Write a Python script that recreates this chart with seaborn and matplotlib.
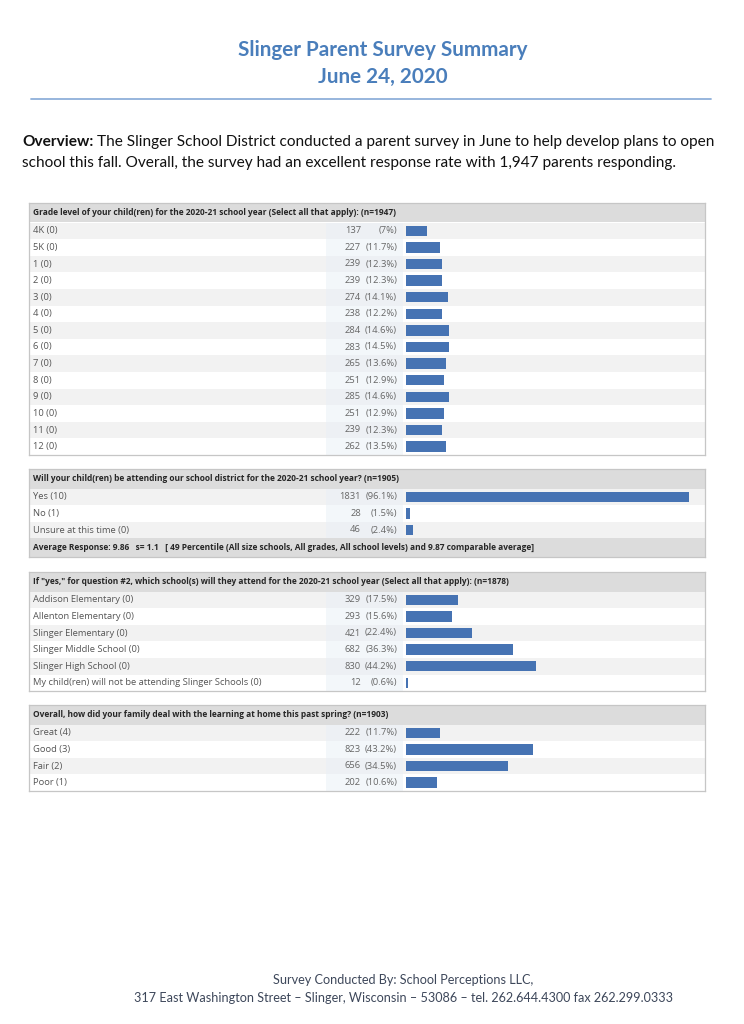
import matplotlib
matplotlib.use("Agg")
import matplotlib.pyplot as plt
import seaborn as sns
import pandas as pd
from matplotlib.patches import Rectangle
from matplotlib.lines import Line2D

# ---------------- data ----------------
grade_labels = ["4K (0)", "5K (0)", "1 (0)", "2 (0)", "3 (0)", "4 (0)", "5 (0)", "6 (0)",
                "7 (0)", "8 (0)", "9 (0)", "10 (0)", "11 (0)", "12 (0)"]
grade_counts = [137, 227, 239, 239, 274, 238, 284, 283, 265, 251, 285, 251, 239, 262]
grade_pcts = [7, 11.7, 12.3, 12.3, 14.1, 12.2, 14.6, 14.5, 13.6, 12.9, 14.6, 12.9, 12.3, 13.5]

attend_labels = ["Yes (10)", "No (1)", "Unsure at this time (0)"]
attend_counts = [1831, 28, 46]
attend_pcts = [96.1, 1.5, 2.4]

school_labels = ["Addison Elementary (0)", "Allenton Elementary (0)", "Slinger Elementary (0)",
                 "Slinger Middle School (0)", "Slinger High School (0)",
                 "My child(ren) will not be attending Slinger Schools (0)"]
school_counts = [329, 293, 421, 682, 830, 12]
school_pcts = [17.5, 15.6, 22.4, 36.3, 44.2, 0.6]

learn_labels = ["Great (4)", "Good (3)", "Fair (2)", "Poor (1)"]
learn_counts = [222, 823, 656, 202]
learn_pcts = [11.7, 43.2, 34.5, 10.6]

q1 = "Grade level of your child(ren) for the 2020-21 school year (Select all that apply): (n=1947)"
q2 = "Will your child(ren) be attending our school district for the 2020-21 school year? (n=1905)"
q2_footer = ("Average Response: 9.86   s= 1.1   [ 49 Percentile (All size schools, All grades, "
             "All school levels) and 9.87 comparable average]")
q3 = ("If \"yes,\" for question #2, which school(s) will they attend for the 2020-21 school year "
      "(Select all that apply): (n=1878)")
q4 = "Overall, how did your family deal with the learning at home this past spring? (n=1903)"

title1 = "Slinger Parent Survey Summary"
title2 = "June 24, 2020"
ov_bold = "Overview:"
ov_rest1 = ("The Slinger School District conducted a parent survey in June to help develop plans to open")
ov_line2 = ("school this fall. Overall, the survey had an excellent response rate with 1,947 parents responding.")
foot1 = "Survey Conducted By: School Perceptions LLC,"
foot2 = ("317 East Washington Street \u2013 Slinger, Wisconsin \u2013 53086 \u2013 tel. 262.644.4300 "
         "fax 262.299.0333")

# ---------------- style ----------------
sns.set_style("white")
plt.rcParams["font.family"] = ["Open Sans", "DejaVu Sans"]

TITLE_C = "#4a7ebb"
RULE_C = "#8fb0da"
BAR_C = "#4673b3"
HEAD_C = "#dcdcdc"
STRIPE_C = "#f2f2f2"
TINT_C = "#e9f0f7"
BORDER_C = "#c6c6c6"
LABEL_C = "#555555"
NUM_C = "#666666"
HEADTXT_C = "#262626"
BODY_C = "#111111"
FOOT_C = "#3d475a"

W, H = 744, 1024
fig = plt.figure(figsize=(7.44, 10.24), dpi=100)
fig.patch.set_facecolor("white")
renderer = fig.canvas.get_renderer()


def fx(px):
    return px / W


def fy(py):
    return 1 - py / H


def measure(s, size, **kw):
    t = fig.text(0, 0, s, fontsize=size, **kw)
    w = t.get_window_extent(renderer=renderer).width
    t.remove()
    return w


def fit_size(s, target, base=10, **kw):
    return base * target / measure(s, base, **kw)


# ---------------- title block ----------------
LATO = ["Lato", "DejaVu Sans"]
ts = fit_size(title1, 291, family=LATO, fontweight="bold")
fig.text(fx(383), fy(50), title1, ha="center", va="center", fontsize=ts,
         fontweight="bold", color=TITLE_C, family=LATO)
fig.text(fx(383), fy(77), title2, ha="center", va="center", fontsize=ts,
         fontweight="bold", color=TITLE_C, family=LATO)
fig.add_artist(Line2D([fx(31), fx(711)], [fy(99), fy(99)], color=RULE_C, lw=1.3))

# overview paragraph
wb = measure(ov_bold + " ", 10, family=LATO, fontweight="bold")
wr = measure(ov_rest1, 10, family=LATO)
osz = 10 * 695 / (wb + wr)
wb_px = measure(ov_bold + " ", osz, family=LATO, fontweight="bold")
fig.text(fx(22), fy(142), ov_bold, ha="left", va="center", fontsize=osz,
         fontweight="bold", color=BODY_C, family=LATO)
fig.text(fx(22 + wb_px), fy(142), ov_rest1, ha="left", va="center", fontsize=osz,
         color=BODY_C, family=LATO)
fig.text(fx(22), fy(163), ov_line2, ha="left", va="center", fontsize=osz,
         color=BODY_C, family=LATO)

# footer
fsz = fit_size(foot2, 536, family=LATO)
fig.text(fx(403), fy(980), foot1, ha="center", va="center", fontsize=fsz, color=FOOT_C, family=LATO)
fig.text(fx(403), fy(998), foot2, ha="center", va="center", fontsize=fsz, color=FOOT_C, family=LATO)

# ---------------- tables ----------------
OS = ["Open Sans", "DejaVu Sans"]
head_sz = fit_size(q1, 364, family=OS, fontweight="bold")
row_sz = fit_size(school_labels[-1], 231, family=OS)

TL, TR = 29, 705
BAR0 = 406
PX_PER_PCT = 2.945
HEAD_PX, ROW_PX, FOOT_PX = 19.5, 16.6, 19.0


def px2d(px):
    return (px - BAR0) / PX_PER_PCT


def draw_table(top, header, labels, counts, pcts, footer=None):
    n = len(labels)
    height = HEAD_PX + n * ROW_PX + (FOOT_PX if footer else 0)
    ax = fig.add_axes([fx(TL), fy(top + height), fx(TR) - fx(TL), height / H])
    df = pd.DataFrame({"label": labels, "pct": pcts})
    sns.barplot(data=df, x="pct", y="label", ax=ax, color=BAR_C, saturation=1,
                width=0.62, orient="h", zorder=3, linewidth=0)
    hu = HEAD_PX / ROW_PX
    fu = (FOOT_PX / ROW_PX) if footer else 0
    ax.set_xlim(px2d(TL), px2d(TR))
    ax.set_ylim(n - 0.5 + fu, -0.5 - hu)
    # backgrounds
    ax.axhspan(-0.5 - hu, -0.5, color=HEAD_C, lw=0, zorder=0)
    for i in range(n):
        if i % 2 == 0:
            ax.axhspan(i - 0.5, i + 0.5, color=STRIPE_C, lw=0, zorder=0)
    ax.add_patch(Rectangle((px2d(326), -0.5), px2d(403) - px2d(326), n,
                           facecolor=TINT_C, edgecolor="none", alpha=0.5, zorder=1))
    if footer:
        ax.axhspan(n - 0.5, n - 0.5 + fu, color=HEAD_C, lw=0, zorder=0)
        ax.text(px2d(33), n - 0.5 + fu / 2, footer, ha="left", va="center",
                fontsize=head_sz, fontweight="bold", color=HEADTXT_C, family=OS, zorder=5)
    # texts
    ax.text(px2d(33), -0.5 - hu / 2, header, ha="left", va="center", fontsize=head_sz,
            fontweight="bold", color=HEADTXT_C, family=OS, zorder=5)
    for i, (lab, c, p) in enumerate(zip(labels, counts, pcts)):
        ax.text(px2d(33), i, lab, ha="left", va="center", fontsize=row_sz,
                color=LABEL_C, family=OS, zorder=5)
        ax.text(px2d(361), i, f"{c}", ha="right", va="center", fontsize=row_sz,
                color=NUM_C, family=OS, zorder=5)
        ax.text(px2d(397), i, f"({p:g}%)", ha="right", va="center", fontsize=row_sz,
                color=NUM_C, family=OS, zorder=5)
    ax.set_xticks([])
    ax.set_yticks([])
    ax.set_xlabel("")
    ax.set_ylabel("")
    for s in ax.spines.values():
        s.set_visible(True)
        s.set_color(BORDER_C)
        s.set_linewidth(0.9)
    ax.set_facecolor("white")
    return ax


draw_table(203, q1, grade_labels, grade_counts, grade_pcts)
draw_table(469, q2, attend_labels, attend_counts, attend_pcts, footer=q2_footer)
draw_table(572, q3, school_labels, school_counts, school_pcts)
draw_table(705, q4, learn_labels, learn_counts, learn_pcts)

fig.savefig("out.png", dpi=100, facecolor="white")
